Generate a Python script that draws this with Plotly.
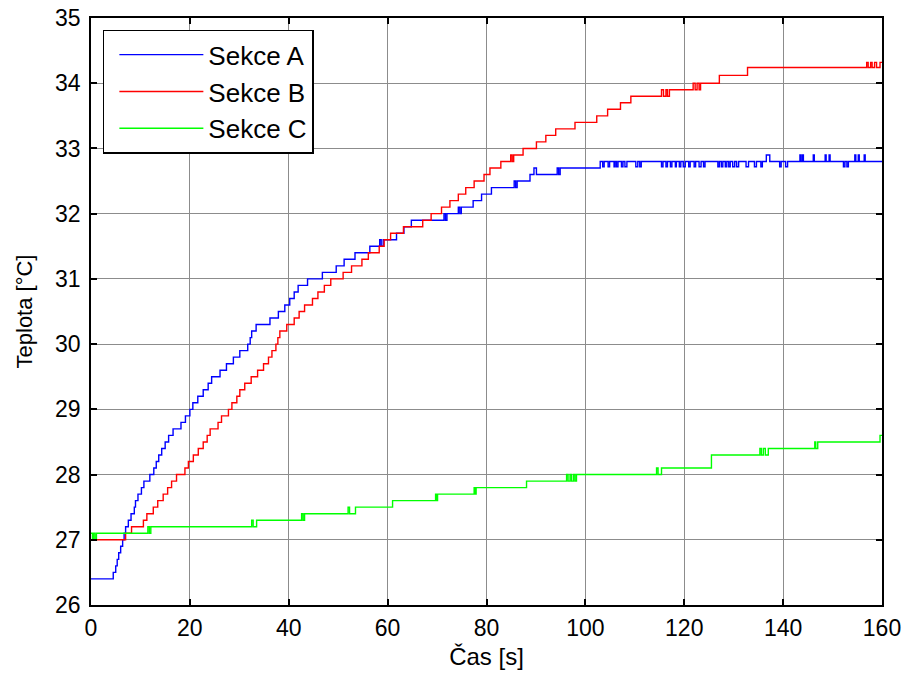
import plotly.graph_objects as go

# ---- Data (step breakpoints) ----
a_time = [0, 4.5, 5.0, 5.3, 5.6, 6.0, 6.4, 6.7, 7.0, 7.55, 8.1, 8.76, 9.0, 9.5, 10.2, 10.7,
          11.9, 12.7, 13.2, 13.7, 14.3, 15.0, 15.7, 16.6, 18.2, 19.1, 20.0, 20.6, 21.6, 22.7,
          23.7, 24.4, 26.1, 27.4, 28.8, 30.1, 31.7, 32.2, 32.5, 33.4, 36.2, 37.9, 39.2, 40.2,
          41.1, 41.9, 43.8, 46.8, 49.6, 51.2, 53.4, 56.4, 58.4, 58.7, 59.1, 61.8, 63.3, 64.8,
          71.4, 71.7, 72.0, 74.3, 74.6, 74.9, 77.3, 79.0, 81.0, 85.6, 85.9, 86.2, 88.8, 89.6,
          90.1, 94.3, 94.6, 94.9, 103.0,
          103.5, 103.8, 104.6, 104.9, 105.8, 106.0, 106.3, 106.6, 107.3, 107.6, 108.0, 108.4,
          110.2, 110.6, 111.0, 111.3,
          115.4, 115.7, 116.3, 116.6, 117.2, 117.5, 118.2, 118.4, 119.0, 119.3, 119.8, 120.2,
          120.9, 121.2, 122.0, 122.3, 123.0, 123.4, 123.9, 124.2,
          126.8, 127.1, 127.5, 127.8, 128.3, 128.6, 129.0, 129.3, 129.8, 130.2, 130.6, 131.0,
          132.5, 133.0, 134.2, 134.6, 135.5, 135.8,
          136.6, 137.3, 139.3, 139.6, 140.5, 140.9, 143.4, 143.6, 143.9, 144.1, 146.1, 146.3,
          148.5, 148.7, 149.3, 149.5, 152.2, 152.5, 152.9, 153.2, 154.5, 154.7, 155.2, 155.4,
          156.4, 156.6, 160.0]
a_temp = [26.4, 26.5, 26.6, 26.7, 26.8, 26.9, 27.0, 27.1, 27.2, 27.3, 27.4, 27.5, 27.6, 27.7, 27.8, 27.9,
          28.0, 28.1, 28.2, 28.3, 28.4, 28.5, 28.6, 28.7, 28.8, 28.9, 29.0, 29.1, 29.2, 29.3,
          29.4, 29.5, 29.6, 29.7, 29.8, 29.9, 30.0, 30.1, 30.2, 30.3, 30.4, 30.5, 30.6, 30.7,
          30.8, 30.9, 31.0, 31.1, 31.2, 31.3, 31.4, 31.5, 31.6, 31.5, 31.6, 31.7, 31.8, 31.9,
          32.0, 31.9, 32.0, 32.1, 32.0, 32.1, 32.2, 32.3, 32.4, 32.5, 32.4, 32.5, 32.6, 32.7,
          32.6, 32.7, 32.6, 32.7, 32.8,
          32.72, 32.8, 32.72, 32.8, 32.72, 32.8, 32.72, 32.8, 32.72, 32.8, 32.72, 32.8,
          32.72, 32.8, 32.72, 32.8,
          32.72, 32.8, 32.72, 32.8, 32.72, 32.8, 32.72, 32.8, 32.72, 32.8, 32.72, 32.8,
          32.72, 32.8, 32.72, 32.8, 32.72, 32.8, 32.72, 32.8,
          32.72, 32.8, 32.72, 32.8, 32.72, 32.8, 32.72, 32.8, 32.72, 32.8, 32.72, 32.8,
          32.72, 32.8, 32.72, 32.8, 32.72, 32.8,
          32.9, 32.8, 32.72, 32.8, 32.72, 32.8, 32.9, 32.8, 32.9, 32.8, 32.9, 32.8,
          32.9, 32.8, 32.9, 32.8, 32.72, 32.8, 32.72, 32.8, 32.9, 32.8, 32.9, 32.8,
          32.9, 32.8, 32.8]

b_time = [0, 7.0, 8.2, 10.6, 11.3, 12.6, 13.5, 14.6, 15.5, 16.3, 17.3, 19.0, 19.7, 20.7, 21.7,
          22.7, 23.5, 24.1, 25.7, 26.4, 27.8, 28.5, 29.5, 30.1, 31.1, 32.4, 33.7, 34.9, 35.9,
          36.6, 37.4, 37.8, 38.2, 39.6, 41.1, 42.1, 43.2, 44.8, 45.9, 47.2, 48.5, 51.0, 52.7,
          54.8, 56.1, 58.3, 59.3, 60.6, 63.2, 67.1, 68.8, 70.9, 72.6, 74.3, 75.8, 77.5, 79.5,
          80.7, 82.9, 84.9, 85.2, 85.5, 87.4, 90.1, 92.0, 94.0, 97.9, 102.3, 104.5, 107.1,
          109.2, 115.4, 115.8, 116.3, 116.6, 117.0, 121.8, 122.2, 122.6, 123.0, 123.3, 127.1,
          132.8, 156.9, 157.2, 157.7, 158.0, 158.5, 158.9, 159.6, 160.0]
b_temp = [27.0, 27.1, 27.2, 27.3, 27.4, 27.5, 27.6, 27.7, 27.8, 27.9, 28.0, 28.1, 28.2, 28.3, 28.4,
          28.5, 28.6, 28.7, 28.8, 28.9, 29.0, 29.1, 29.2, 29.3, 29.4, 29.5, 29.6, 29.7, 29.8,
          29.9, 30.0, 30.1, 30.2, 30.3, 30.4, 30.5, 30.6, 30.7, 30.8, 30.9, 31.0, 31.1, 31.2,
          31.3, 31.4, 31.5, 31.6, 31.7, 31.8, 31.9, 32.0, 32.1, 32.2, 32.3, 32.4, 32.5, 32.6,
          32.7, 32.8, 32.9, 32.8, 32.9, 33.0, 33.1, 33.2, 33.3, 33.4, 33.5, 33.6, 33.7,
          33.8, 33.9, 33.8, 33.9, 33.8, 33.9, 34.0, 33.9, 34.0, 33.9, 34.0, 34.12,
          34.24, 34.32, 34.24, 34.32, 34.24, 34.32, 34.24, 34.32, 34.32]

c_time = [0, 0.3, 0.5, 0.8, 1.1, 11.5, 11.8, 12.1, 32.5, 32.8, 33.5, 42.6, 42.9, 43.2,
          52.0, 52.3, 53.5, 61.0, 69.7, 69.9, 70.1, 77.5, 77.7, 77.9, 88.1,
          96.2, 96.5, 96.9, 97.2, 97.6, 97.9, 98.2, 114.4, 114.7, 115.4, 125.5,
          135.3, 135.6, 136.0, 136.4, 137.0, 146.4, 146.6, 147.0, 159.6, 160.0]
c_temp = [27.1, 27.0, 27.1, 27.0, 27.1, 27.2, 27.1, 27.2, 27.3, 27.2, 27.3, 27.4, 27.3, 27.4,
          27.5, 27.4, 27.5, 27.6, 27.7, 27.6, 27.7, 27.8, 27.7, 27.8, 27.9,
          28.0, 27.9, 28.0, 27.9, 28.0, 27.9, 28.0, 28.1, 28.0, 28.1, 28.3,
          28.4, 28.3, 28.4, 28.3, 28.4, 28.5, 28.4, 28.5, 28.6, 28.6]

series_names = ["Sekce A", "Sekce B", "Sekce C"]
series_colors = ["#0000ff", "#ff0000", "#00ff00"]
x_ticks = [0, 20, 40, 60, 80, 100, 120, 140, 160]
y_ticks = [26, 27, 28, 29, 30, 31, 32, 33, 34, 35]

FONT = "Liberation Sans, Arial, sans-serif"

fig = go.Figure()
for name, color, t, v in zip(series_names, series_colors,
                             [a_time, b_time, c_time], [a_temp, b_temp, c_temp]):
    fig.add_trace(go.Scatter(x=t, y=v, mode="lines", name=name,
                             line=dict(color=color, width=1.4, shape="hv")))

axis_common = dict(showline=True, linecolor="black", linewidth=1.5, mirror="ticks",
                   ticks="inside", ticklen=6, tickwidth=1.5, tickcolor="black",
                   showgrid=True, gridcolor="rgb(140,140,140)", gridwidth=1,
                   zeroline=False, automargin=False,
                   tickfont=dict(family=FONT, size=23, color="black"))

fig.update_xaxes(range=[0, 160], tickvals=x_ticks, ticklabelstandoff=2,
                 title=dict(text="Čas [s]", font=dict(family=FONT, size=24, color="black"),
                            standoff=8),
                 **axis_common)
fig.update_yaxes(range=[26, 35], tickvals=y_ticks, ticklabelstandoff=4,
                 title=dict(text="Teplota [°C]", font=dict(family=FONT, size=22, color="black"),
                            standoff=16),
                 **axis_common)

fig.update_layout(
    width=908, height=675,
    margin=dict(l=91, r=26, t=18, b=70),
    paper_bgcolor="white", plot_bgcolor="white",
    font=dict(family=FONT, size=22, color="black"),
    legend=dict(x=0.015, y=0.98, xanchor="left", yanchor="top",
                bgcolor="white", bordercolor="black", borderwidth=1.5,
                font=dict(family=FONT, size=26, color="black"),
                itemwidth=84, indentation=10, tracegroupgap=0),
    showlegend=True,
)

fig.write_html("out.html")
